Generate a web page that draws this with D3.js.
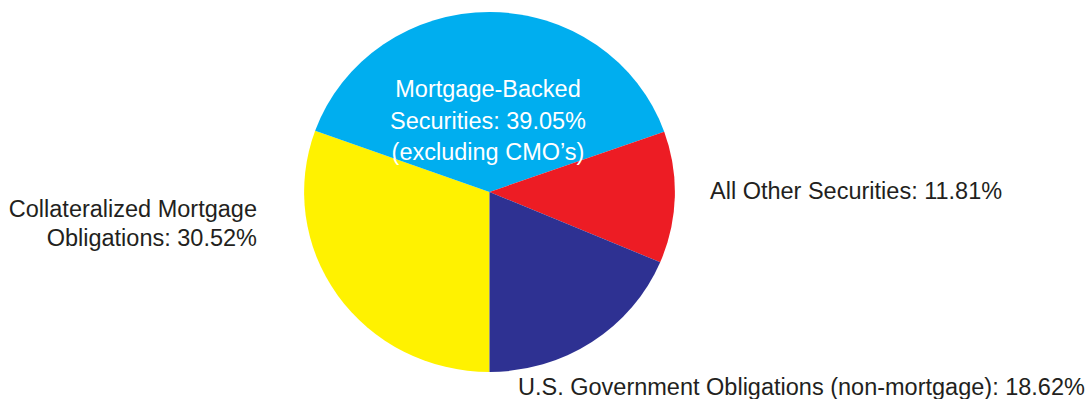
<!DOCTYPE html>
<html>
<head>
<meta charset="utf-8">
<script src="https://cdn.jsdelivr.net/npm/d3@7"></script>
<style>
  body { margin: 0; background: #fff; }
  text { font-family: "Liberation Sans", Arial, sans-serif; font-size: 23.5px; }
</style>
</head>
<body>
<svg width="1088" height="399"></svg>
<script>
var svg = d3.select("svg"),
    width = +svg.attr("width"),
    height = +svg.attr("height");

// Data
var categories = ["Collateralized Mortgage Obligations", "Mortgage-Backed Securities", "All Other Securities", "U.S. Government Obligations"];
var values = [30.52, 39.05, 11.81, 18.62];
var colors = ["#fff200", "#00aeef", "#ed1c24", "#2e3192"];
var labelLines = [
    ["Collateralized Mortgage", "Obligations: 30.52%"],
    ["Mortgage-Backed", "Securities: 39.05%", "(excluding CMO\u2019s)"],
    ["All Other Securities: 11.81%"],
    ["U.S. Government Obligations (non-mortgage): 18.62%"]
];

var cx = 489.5, cy = 192, r = 180;

var pie = d3.pie()
    .sort(null)
    .value(function (d) { return d; })
    .startAngle(Math.PI)
    .endAngle(3 * Math.PI);

var arc = d3.arc().innerRadius(0).outerRadius(r);

// Pie is slightly wider than tall in the original
var g = svg.append("g")
    .attr("transform", "translate(" + cx + "," + cy + ") scale(1.03,1)");

g.selectAll("path")
    .data(pie(values))
    .enter().append("path")
        .attr("fill", function (d, i) { return colors[i]; })
        .attr("d", arc);

// Labels
var labelPos = [
    { x: 257, y: 217, anchor: "end", fill: "#231f20", lh: 29 },
    { x: 488, y: 97, anchor: "middle", fill: "#ffffff", lh: 31.5 },
    { x: 710, y: 199, anchor: "start", fill: "#231f20", lh: 29 },
    { x: 518, y: 395, anchor: "start", fill: "#231f20", lh: 29 }
];

labelLines.forEach(function (lines, i) {
    var p = labelPos[i];
    var t = svg.append("text")
        .attr("text-anchor", p.anchor)
        .attr("fill", p.fill);
    lines.forEach(function (line, j) {
        t.append("tspan")
            .attr("x", p.x)
            .attr("y", p.y + j * p.lh)
            .text(line);
    });
});
</script>
</body>
</html>
